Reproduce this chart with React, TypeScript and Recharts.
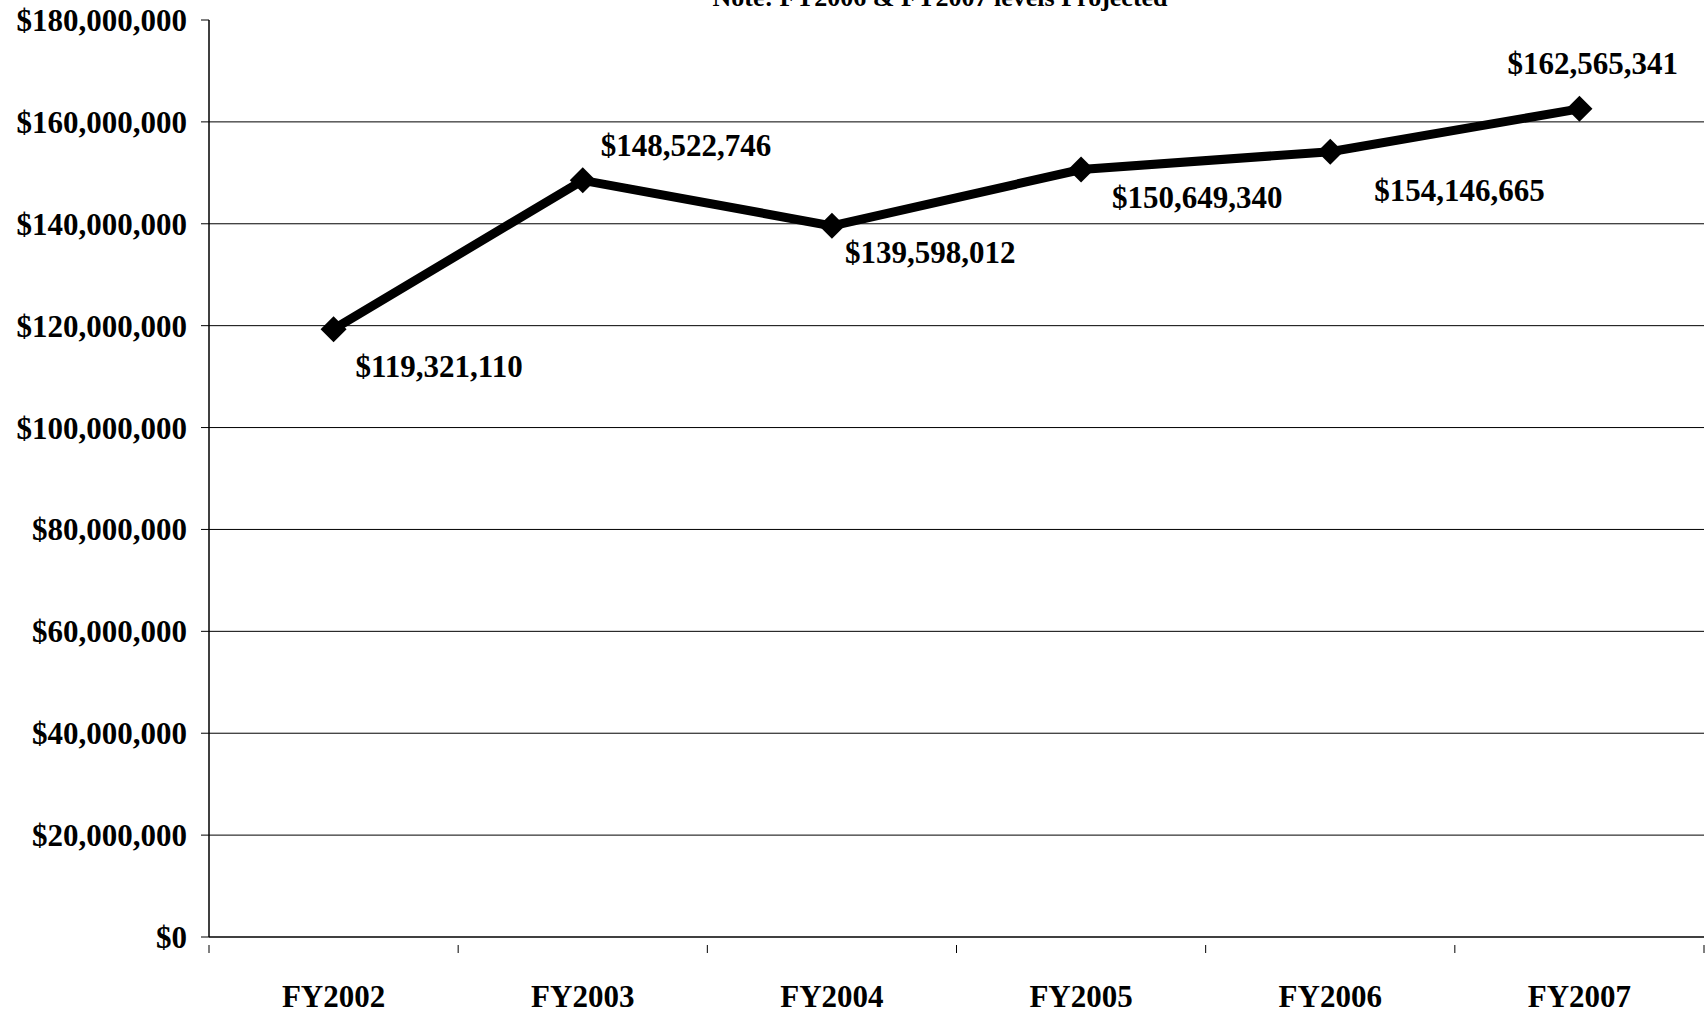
import React from 'react';
import { LineChart, Line, XAxis, YAxis, ReferenceLine, LabelList } from 'recharts';

const years = ['FY2002', 'FY2003', 'FY2004', 'FY2005', 'FY2006', 'FY2007'];
const funding = [119321110, 148522746, 139598012, 150649340, 154146665, 162565341];
const yTicks = [0, 20000000, 40000000, 60000000, 80000000, 100000000, 120000000, 140000000, 160000000, 180000000];
const gridValues = [20000000, 40000000, 60000000, 80000000, 100000000, 120000000, 140000000, 160000000];

const data = years.map((year, i) => ({ year, funding: funding[i] }));

// where each value label sits relative to its point (hand placed, like the original)
const labelOffsets = [
  [22, 37],
  [18, -35],
  [13, 27],
  [31, 28],
  [44, 39],
  [-72, -45],
];

const CHART_W = 1707;
const CHART_H = 1011;
const Y_AXIS_W = 209;
const RIGHT = 3;
const HALF_BAND = (CHART_W - Y_AXIS_W - RIGHT) / years.length / 2;
const FONT = '"Liberation Serif", "Times New Roman", serif';
const FS = 31;

const money = (v: number) => '$' + v.toLocaleString('en-US');

const Diamond = (props: any) => {
  const { cx, cy } = props;
  if (cx == null || cy == null) return null;
  const r = 13;
  return (
    <polygon
      points={`${cx},${cy - r} ${cx + r},${cy} ${cx},${cy + r} ${cx - r},${cy}`}
      fill="#000"
    />
  );
};

const YearTick = (props: any) => {
  const { x, y, payload, index } = props;
  return (
    <g>
      <line x1={x - HALF_BAND} y1={y} x2={x - HALF_BAND} y2={y + 8} stroke="#000" />
      {index === years.length - 1 && (
        <line x1={x + HALF_BAND} y1={y} x2={x + HALF_BAND} y2={y + 8} stroke="#000" />
      )}
      <text
        x={x}
        y={y + 51}
        textAnchor="middle"
        dominantBaseline="central"
        fontFamily={FONT}
        fontWeight="bold"
        fontSize={FS}
        fill="#000"
      >
        {payload.value}
      </text>
    </g>
  );
};

const ValueLabel = (props: any) => {
  const { x, y, value, index } = props;
  const [dx, dy] = labelOffsets[index] || [0, 0];
  return (
    <text
      x={x + dx}
      y={y + dy}
      textAnchor="start"
      dominantBaseline="central"
      fontFamily={FONT}
      fontWeight="bold"
      fontSize={FS}
      fill="#000"
    >
      {money(value)}
    </text>
  );
};

export default function App() {
  return (
    <div style={{ position: 'absolute', left: 0, top: 0, width: CHART_W, height: CHART_H, overflow: 'hidden', background: '#fff' }}>
      <div
        style={{
          position: 'absolute',
          top: -15,
          left: 940,
          transform: 'translateX(-50%)',
          whiteSpace: 'nowrap',
          fontFamily: FONT,
          fontWeight: 'bold',
          fontSize: 26,
          lineHeight: '26px',
        }}
      >
        Note: FY2006 &amp; FY2007 levels Projected
      </div>
      <LineChart
        width={CHART_W}
        height={CHART_H}
        data={data}
        margin={{ top: 20, right: RIGHT, left: 0, bottom: 0 }}
      >
        <XAxis
          dataKey="year"
          scale="band"
          height={74}
          axisLine={{ stroke: '#000', strokeWidth: 1.5 }}
          tickLine={false}
          tick={<YearTick />}
          interval={0}
        />
        <YAxis
          width={Y_AXIS_W}
          domain={[0, 180000000]}
          ticks={yTicks}
          interval={0}
          tickFormatter={money}
          axisLine={{ stroke: '#000', strokeWidth: 1.5 }}
          tickLine={{ stroke: '#000' }}
          tickSize={8}
          tickMargin={14}
          tick={{ fontFamily: FONT, fontWeight: 'bold', fontSize: FS, fill: '#000' }}
        />
        {gridValues.map((v) => (
          <ReferenceLine key={v} y={v} stroke="#000" strokeWidth={1} />
        ))}
        <Line
          type="linear"
          dataKey="funding"
          stroke="#000"
          strokeWidth={9}
          dot={<Diamond />}
          activeDot={false}
          isAnimationActive={false}
        >
          <LabelList dataKey="funding" content={<ValueLabel />} />
        </Line>
      </LineChart>
    </div>
  );
}
